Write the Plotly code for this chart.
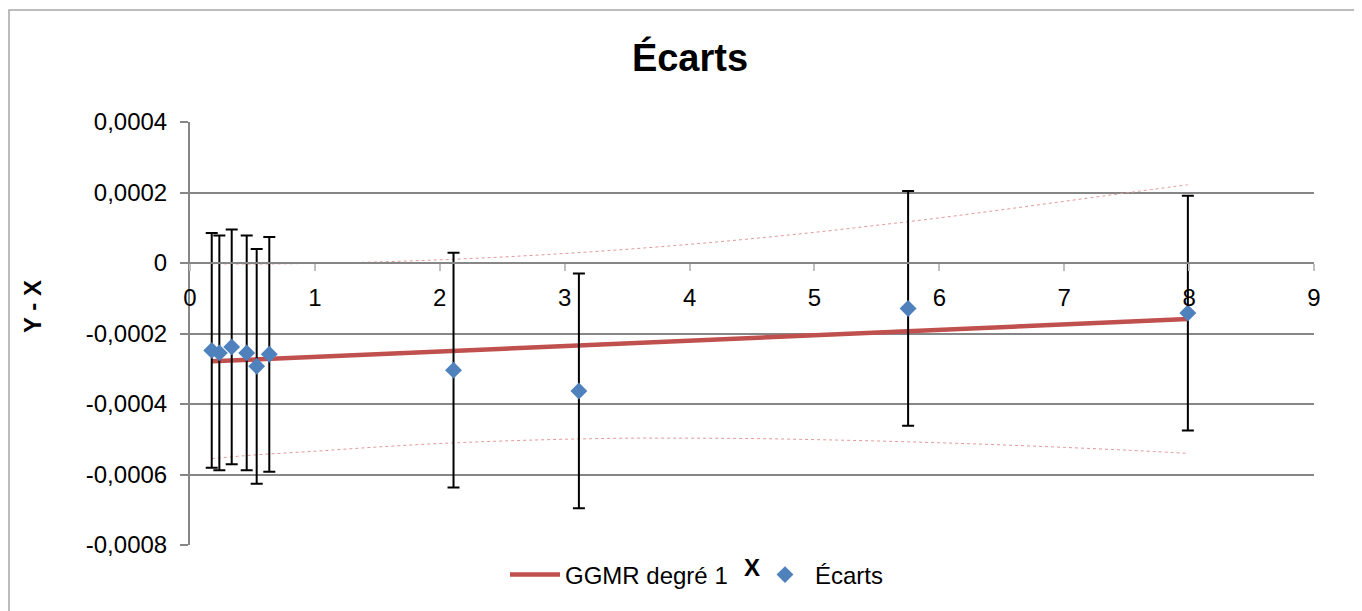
import plotly.graph_objects as go

# --- data ---
x_pts = [0.174, 0.235, 0.334, 0.454, 0.534, 0.635, 2.11, 3.114, 5.75, 7.99]
y_pts = [-0.000248, -0.000255, -0.000238, -0.000255, -0.000293, -0.000259,
         -0.000304, -0.000363, -0.000129, -0.000142]
err_pts = [0.000333, 0.000333, 0.000333, 0.000333, 0.000333, 0.000333,
           0.000333, 0.000333, 0.000333, 0.000333]

fit_x = [0.174, 7.99]
fit_y = [-0.000279, -0.000159]

band_x = [0.174, 0.5, 1, 1.5, 2, 2.5, 3, 3.5, 4, 4.5, 5, 5.5, 6, 6.5, 7, 7.5, 7.99]
band_up = [-0.000002, -0.000003, -0.000001, 0.000003, 0.000009, 0.000017, 0.000027,
           0.000039, 0.000053, 0.000069, 0.000087, 0.000107, 0.000128, 0.000151,
           0.000175, 0.000199, 0.000222]
band_lo = [-0.000555, -0.000545, -0.000534, -0.000522, -0.000512, -0.000505, -0.000500,
           -0.000497, -0.000497, -0.000498, -0.000501, -0.000505, -0.000510, -0.000516,
           -0.000523, -0.000531, -0.000540]

y_tickvals = [0.0004, 0.0002, 0, -0.0002, -0.0004, -0.0006, -0.0008]
y_ticktext = ["0,0004", "0,0002", "0", "-0,0002", "-0,0004", "-0,0006", "-0,0008"]
x_tickvals = [0, 1, 2, 3, 4, 5, 6, 7, 8, 9]

FONT = "Liberation Sans"
RED = "#C0504D"
BLUE = "#4F81BD"
GRID = "#868686"

fig = go.Figure()

fig.add_trace(go.Scatter(x=band_x, y=band_up, mode="lines", showlegend=False,
                         line=dict(color="#E4999A", width=1, dash="dot", shape="spline"),
                         hoverinfo="skip"))
fig.add_trace(go.Scatter(x=band_x, y=band_lo, mode="lines", showlegend=False,
                         line=dict(color="#E4999A", width=1, dash="dot", shape="spline"),
                         hoverinfo="skip"))
fig.add_trace(go.Scatter(x=fit_x, y=fit_y, mode="lines", name="GGMR degré 1",
                         line=dict(color=RED, width=4.5)))
fig.add_trace(go.Scatter(x=x_pts, y=y_pts, mode="markers", name="Écarts",
                         marker=dict(symbol="diamond", size=13, color=BLUE),
                         error_y=dict(type="data", array=err_pts, visible=True,
                                      color="black", thickness=2, width=6)))

OFF = 8  # page body margin
L, R, T, B = 190 - OFF, 1314 - OFF, 122 - OFF, 545 - OFF
W, H = 1362, 611
pw, ph = R - L, B - T
zero_frac = (B - (263.3 - OFF)) / ph

def px2x(p):
    return (p - OFF - L) / pw

def py2y(p):
    return (B - (p - OFF)) / ph

fig.update_layout(
    width=W, height=H,
    margin=dict(l=L, r=W - R, t=T, b=H - B),
    paper_bgcolor="white", plot_bgcolor="white",
    font=dict(family=FONT, size=24, color="black"),
    title=dict(text="<b>Écarts</b>", x=(690 - OFF) / W, xanchor="center",
               y=1 - (58 - OFF) / H, yanchor="middle",
               font=dict(family=FONT, size=38, color="black")),
    showlegend=True,
    legend=dict(orientation="h", x=px2x(505), xanchor="left", y=py2y(575), yanchor="middle",
                font=dict(family=FONT, size=24), bgcolor="rgba(0,0,0,0)",
                itemwidth=50,
                entrywidth=185, entrywidthmode="pixels", traceorder="normal"),
    xaxis=dict(range=[0, 9], tickvals=x_tickvals, showgrid=False, zeroline=False,
               showline=True, linecolor=GRID, linewidth=2,
               ticks="outside", ticklen=7, tickcolor="#BFBFBF", tickwidth=1.5,
               anchor="free", position=zero_frac, ticklabelstandoff=6,
               tickfont=dict(family=FONT, size=24)),
    yaxis=dict(range=[-0.0008, 0.0004], tickvals=y_tickvals, ticktext=y_ticktext,
               showgrid=True, gridcolor=GRID, gridwidth=2, zeroline=False,
               showline=True, linecolor=GRID, linewidth=2,
               ticks="outside", ticklen=8, tickcolor=GRID, tickwidth=1.5,
               ticklabelstandoff=8, tickfont=dict(family=FONT, size=24)),
    annotations=[
        dict(text="<b>Y - X</b>", textangle=-90, xref="paper", yref="paper",
             x=px2x(32), y=py2y(307), showarrow=False, xanchor="center", yanchor="middle",
             font=dict(family=FONT, size=24, color="black")),
        dict(text="<b>X</b>", xref="paper", yref="paper",
             x=px2x(752), y=py2y(567), showarrow=False, xanchor="center", yanchor="middle",
             font=dict(family=FONT, size=24, color="black")),
    ],
    shapes=[
        dict(type="rect", xref="paper", yref="paper",
             x0=px2x(9), x1=px2x(1380), y0=py2y(630), y1=py2y(10),
             line=dict(color="#A6A6A6", width=1.5), fillcolor="rgba(0,0,0,0)", layer="below"),
    ],
)

fig.write_html("out.html")
